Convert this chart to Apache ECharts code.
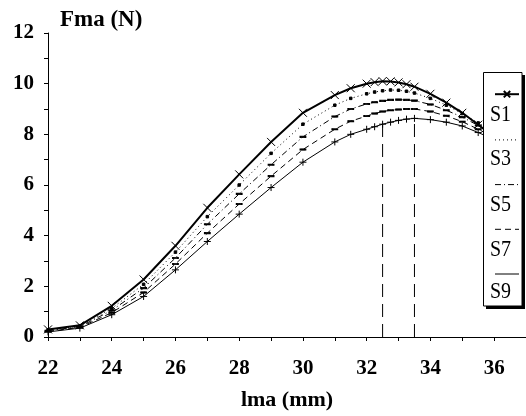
<!DOCTYPE html>
<html>
<head>
<meta charset="utf-8">
<script src="https://cdn.jsdelivr.net/npm/echarts@6/dist/echarts.min.js"></script>
<style>
html,body{margin:0;padding:0;background:#fff;}
#c{width:526px;height:416px;}
</style>
</head>
<body>
<div id="c"></div>
<script>
// ---- data ----
const xs = [22,23,24,25,26,27,28,29,30,31,31.5,32,32.25,32.5,32.75,33,33.25,33.5,34,34.5,35,35.5,36,36.5];
const S1 = [0.30,0.46,1.23,2.27,3.6,5.1,6.42,7.7,8.85,9.55,9.82,10.0,10.06,10.1,10.09,10.05,9.98,9.88,9.6,9.25,8.85,8.38,7.9,7.4];
const S3 = [0.28,0.43,1.13,2.08,3.35,4.75,6.0,7.25,8.4,9.15,9.42,9.6,9.67,9.72,9.75,9.74,9.7,9.63,9.42,9.15,8.82,8.45,8.05,7.6];
const S5 = [0.25,0.41,1.05,1.93,3.12,4.45,5.65,6.8,7.9,8.7,9.0,9.2,9.27,9.32,9.36,9.37,9.36,9.33,9.18,8.95,8.68,8.35,7.98,7.58];
const S7 = [0.22,0.38,0.96,1.76,2.88,4.1,5.25,6.35,7.4,8.2,8.52,8.72,8.82,8.9,8.95,8.98,9.0,9.0,8.9,8.73,8.5,8.2,7.88,7.52];
const S9 = [0.2,0.35,0.88,1.6,2.65,3.77,4.85,5.9,6.9,7.7,8.0,8.2,8.3,8.4,8.48,8.55,8.6,8.63,8.58,8.48,8.33,8.07,7.8,7.5];
const seriesNames = ['S1','S3','S5','S7','S9'];
const dashX = [32.5, 33.5];
const dashTop = [8.4, 8.63];
const xTickLabels = [22,24,26,28,30,32,34,36];
const yTickLabels = [0,2,4,6,8,10,12];

const FONT = 'Liberation Serif';
const pair = (arr) => xs.map((x, i) => [x, arr[i]]);

const styles = {
  S1: { lineStyle:{width:2, type:'solid'}, symbol:'path://M0,0L10,10M10,0L0,10', symbolSize:8, hideLegendSymbol:false },
  S3: { lineStyle:{width:1, type:[1,3]}, symbol:'rect', symbolSize:2.5, hideLegendSymbol:true },
  S5: { lineStyle:{width:1, type:[6,3,1,3]}, symbol:'rect', symbolSize:[5,1.5], hideLegendSymbol:true },
  S7: { lineStyle:{width:1, type:[6,4]}, symbol:'rect', symbolSize:[5,1.5], hideLegendSymbol:true },
  S9: { lineStyle:{width:1, type:'solid'}, symbol:'path://M5,0L5,10M0,5L10,5', symbolSize:7, hideLegendSymbol:true }
};
const dataMap = {S1, S3, S5, S7, S9};

const series = seriesNames.map(n => ({
  name: n,
  type: 'line',
  data: pair(dataMap[n]),
  symbol: styles[n].symbol,
  symbolSize: styles[n].symbolSize,
  showSymbol: true,
  lineStyle: Object.assign({color:'#000'}, styles[n].lineStyle),
  itemStyle: {color:'#000', borderColor:'#000', borderWidth:1},
  z: 2,
  animation: false
}));
dashX.forEach((x, i) => {
  series.push({
    name: 'ref' + i,
    type: 'line',
    data: [[x, 0], [x, dashTop[i]]],
    symbol: 'none',
    lineStyle: {color:'#000', width:1, type:[13,7]},
    z: 1,
    animation: false
  });
});

const chart = echarts.init(document.getElementById('c'), null, {renderer:'canvas'});
const legendLabelY = [115, 159, 205, 250, 292];
const graphics = [
  {type:'rect', z:10, shape:{x:522, y:75, width:3, height:234}, style:{fill:'#000'}},
  {type:'rect', z:10, shape:{x:486, y:306, width:39, height:3}, style:{fill:'#000'}},
  {type:'rect', z:11, shape:{x:483.5, y:72.5, width:38.5, height:233.5}, style:{fill:'#fff', stroke:'#000', lineWidth:1}}
];
seriesNames.forEach((n, i) => {
  graphics.push({
    type:'text', z:20, x:500.5, y:legendLabelY[i], scaleY:1.2,
    style:{text:n, font:'20px "' + FONT + '"', fill:'#000', align:'center', verticalAlign:'middle'}
  });
});

const legendData = seriesNames.map(n => {
  const d = {name:n, lineStyle:{width:styles[n].lineStyle.width}};
  if (styles[n].hideLegendSymbol) {
    d.itemStyle = {color:'rgba(0,0,0,0)', borderColor:'rgba(0,0,0,0)', borderWidth:0};
  }
  return d;
});

chart.setOption({
  backgroundColor:'#fff',
  animation:false,
  grid:{left:48, right:-9, top:33, bottom:71, containLabel:false},
  xAxis:{
    type:'value', min:22, max:37, interval:1,
    name:'lma (mm)', nameLocation:'middle', nameGap:52,
    nameTextStyle:{fontFamily:FONT, fontWeight:'bold', fontSize:22, color:'#000'},
    axisLine:{show:true, lineStyle:{color:'#000', width:1}},
    axisTick:{show:true, length:4, lineStyle:{color:'#000'}},
    splitLine:{show:false},
    axisLabel:{
      margin:21, fontFamily:FONT, fontWeight:'bold', fontSize:21, color:'#000',
      showMaxLabel:false,
      formatter:(v) => xTickLabels.indexOf(v) >= 0 ? String(v) : ''
    }
  },
  yAxis:{
    type:'value', min:0, max:12, interval:1,
    name:'Fma (N)', nameLocation:'end', nameGap:13,
    nameTextStyle:{fontFamily:FONT, fontWeight:'bold', fontSize:23, color:'#000', align:'left', verticalAlign:'middle', padding:[0,0,0,12]},
    axisLine:{show:true, lineStyle:{color:'#000', width:1}},
    axisTick:{show:true, length:4, lineStyle:{color:'#000'}},
    splitLine:{show:false},
    axisLabel:{
      margin:14, fontFamily:FONT, fontWeight:'bold', fontSize:21, color:'#000',
      formatter:(v) => yTickLabels.indexOf(v) >= 0 ? String(v) : ''
    }
  },
  legend:{
    data: legendData,
    orient:'vertical', left:489, top:85,
    itemWidth:24, itemHeight:8, itemGap:37.5,
    formatter:() => '',
    textStyle:{fontSize:1},
    z:20,
    selectedMode:false
  },
  graphic: graphics,
  series: series
});
</script>
</body>
</html>
